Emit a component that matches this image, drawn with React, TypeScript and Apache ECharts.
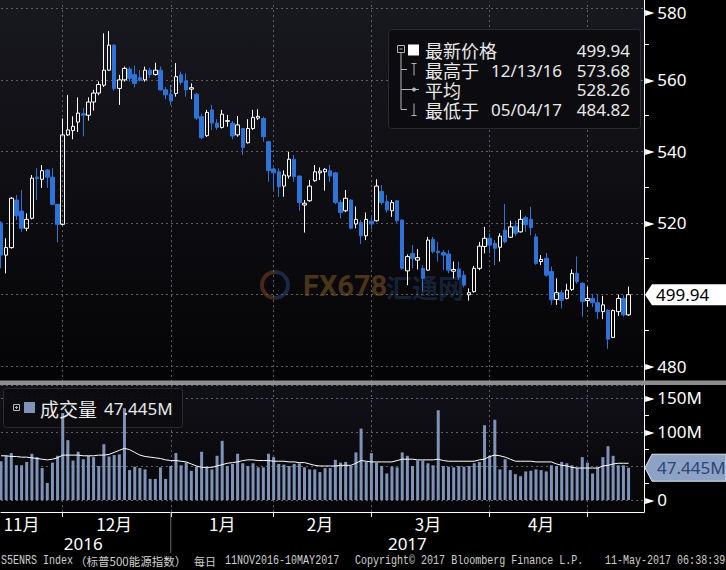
import React, { useEffect, useRef } from 'react';
import * as echarts from 'echarts';

// ---------- data ----------
const holidays = ['2016-11-24', '2016-12-26', '2017-01-02', '2017-01-16', '2017-02-20', '2017-04-14'];
function buildDates(): string[] {
  const out: string[] = [];
  const d = new Date(Date.UTC(2016, 10, 11));
  const end = Date.UTC(2017, 4, 10);
  while (d.getTime() <= end) {
    const wd = d.getUTCDay();
    const s = d.toISOString().slice(0, 10);
    if (wd !== 0 && wd !== 6 && holidays.indexOf(s) < 0) out.push(s);
    d.setUTCDate(d.getUTCDate() + 1);
  }
  return out;
}
const dates = buildDates();
const padCategories = ['2017-05-11', '2017-05-12', '2017-05-15'];
const categories = [...dates, ...padCategories];

const opens = [520.0, 511.0, 513.1, 526.4, 523.3, 518.5, 521.3, 532.8, 532.2, 534.8,
  532.8, 525.2, 519.6, 544.6, 545.8, 548.2, 550.5, 550.1, 553.8, 556.3,
  558.5, 562.7, 569.7, 557.6, 560.0, 563.0, 561.5, 560.6, 560.0, 562.7,
  561.5, 562.7, 557.2, 556.0, 556.2, 561.4, 559.7, 557.4, 556.0, 549.7,
  544.4, 551.6, 547.9, 546.7, 548.4, 547.9, 544.6, 546.4, 542.4, 546.4,
  549.3, 549.2, 542.7, 535.1, 534.3, 530.3, 533.1, 537.8, 533.1, 525.0,
  526.2, 531.8, 534.0, 534.3, 534.6, 534.0, 525.7, 523.4, 526.4, 519.7,
  520.1, 516.4, 520.5, 520.6, 528.8, 526.0, 523.4, 526.2, 520.8, 506.6,
  511.5, 509.6, 507.3, 506.8, 515.4, 512.1, 511.7, 511.3, 506.5, 507.1,
  505.4, 499.9, 500.8, 507.3, 513.4, 515.7, 514.3, 513.2, 518.0, 516.0,
  519.1, 517.5, 521.5, 521.0, 516.1, 509.2, 510.1, 506.4, 498.6, 500.5,
  498.9, 501.4, 505.9, 503.1, 498.3, 498.9, 497.7, 495.2, 495.5, 488.0,
  495.2, 498.9, 494.3];
const closes = [511.0, 513.1, 526.9, 522.0, 518.5, 521.0, 532.5, 532.4, 534.6, 532.8,
  525.2, 519.6, 544.6, 546.0, 547.0, 550.7, 550.1, 553.8, 556.3, 558.7,
  562.7, 569.7, 557.6, 560.0, 563.2, 560.4, 559.0, 559.9, 562.7, 561.5,
  562.7, 557.2, 555.8, 554.1, 560.9, 559.3, 557.2, 557.8, 549.3, 543.8,
  550.9, 547.9, 546.7, 550.4, 548.6, 544.3, 547.4, 541.1, 546.4, 549.5,
  549.8, 544.1, 534.6, 534.0, 530.1, 533.4, 537.8, 532.9, 525.7, 525.5,
  530.3, 534.3, 534.5, 535.0, 533.1, 525.7, 522.9, 526.9, 518.5, 521.0,
  516.4, 521.0, 519.7, 530.3, 525.7, 523.6, 525.7, 520.6, 507.3, 510.6,
  510.1, 510.3, 504.5, 515.2, 512.0, 511.7, 511.0, 506.8, 507.0, 504.8,
  502.6, 500.5, 507.3, 513.5, 515.7, 513.8, 512.9, 516.3, 514.7, 518.9,
  517.1, 521.0, 519.5, 518.7, 508.7, 509.8, 505.4, 498.5, 500.5, 498.4,
  501.2, 505.9, 503.6, 498.0, 498.9, 497.7, 495.2, 497.1, 487.5, 495.5,
  498.9, 494.3, 499.94];
const lows = [507.3, 505.9, 512.8, 520.8, 517.5, 517.7, 521.0, 526.4, 529.8, 529.8,
  525.0, 514.6, 519.3, 544.3, 543.4, 545.4, 544.2, 548.6, 551.4, 555.7,
  558.0, 562.5, 557.0, 553.0, 559.5, 559.5, 557.9, 559.5, 559.5, 560.6,
  561.2, 557.0, 554.6, 553.0, 555.3, 558.6, 555.3, 554.6, 548.8, 543.5,
  544.0, 546.0, 546.0, 546.4, 546.9, 543.4, 544.1, 539.0, 542.2, 546.0,
  548.8, 542.7, 531.5, 529.2, 527.3, 527.3, 532.4, 531.5, 523.4, 517.3,
  525.9, 531.5, 532.0, 529.0, 531.5, 525.3, 521.3, 523.0, 518.2, 518.5,
  514.1, 515.2, 518.2, 520.4, 525.0, 522.9, 521.7, 520.0, 506.9, 502.6,
  507.3, 507.0, 500.8, 506.6, 511.5, 509.2, 506.8, 505.9, 504.5, 504.0,
  502.0, 498.3, 500.5, 506.8, 511.5, 511.5, 508.2, 509.2, 514.3, 515.8,
  516.3, 517.3, 517.5, 516.5, 508.3, 508.2, 505.0, 497.1, 497.1, 496.1,
  498.6, 501.0, 503.0, 493.8, 496.6, 496.5, 493.1, 493.1, 484.82, 487.8,
  494.0, 493.8, 494.0];
const highs = [520.5, 515.7, 527.2, 527.8, 529.2, 522.7, 533.4, 535.3, 536.2, 535.0,
  535.3, 525.2, 549.2, 555.8, 549.8, 555.1, 552.1, 555.1, 557.2, 559.6,
  573.0, 573.68, 570.0, 561.4, 563.7, 563.7, 564.0, 562.7, 563.7, 563.4,
  564.8, 563.7, 558.0, 558.6, 564.7, 562.3, 561.8, 559.0, 556.3, 550.6,
  551.6, 553.0, 549.0, 551.6, 550.2, 548.5, 549.9, 546.6, 549.0, 551.6,
  551.8, 549.7, 543.0, 535.5, 535.3, 534.7, 539.9, 539.0, 533.3, 526.4,
  532.0, 536.2, 535.5, 535.3, 536.2, 534.3, 526.4, 529.2, 526.6, 524.6,
  520.8, 522.9, 522.2, 532.2, 530.6, 527.8, 526.4, 526.4, 521.0, 511.2,
  513.8, 512.7, 508.2, 516.1, 516.1, 514.7, 512.4, 512.4, 509.2, 509.2,
  506.6, 501.7, 508.0, 514.7, 518.9, 517.1, 515.2, 517.1, 525.3, 520.6,
  520.6, 523.6, 522.0, 524.5, 517.0, 511.0, 511.6, 507.8, 504.5, 501.2,
  503.0, 507.0, 510.6, 503.5, 502.2, 500.2, 500.1, 499.6, 495.9, 495.8,
  500.0, 499.8, 502.2];
// volume, millions
const volumes = [57, 65, 69, 51, 51, 56, 68, 63, 47, 25,
  55, 65, 128, 88, 58, 71, 60, 65, 63, 50,
  82, 64, 66, 67, 135, 44, 49, 47, 45, 31,
  31, 48, 31, 50, 69, 51, 55, 43, 49, 71,
  48, 45, 65, 87, 50, 53, 68, 54, 50, 54,
  48, 48, 68, 63, 53, 52, 50, 53, 54, 48,
  45, 45, 41, 47, 47, 59, 55, 56, 50, 70,
  105, 56, 69, 55, 50, 39, 49, 48, 70, 65,
  50, 58, 58, 54, 51, 132, 50, 49, 48, 50,
  49, 50, 54, 56, 110, 65, 118, 45, 60, 44,
  38, 35, 42, 43, 45, 44, 42, 51, 50, 56,
  54, 51, 47, 63, 55, 39, 48, 63, 79, 65,
  51, 51, 47.445];
const volumeMA = [65, 65, 64, 64, 63, 63, 62, 61, 60, 59,
  60, 62, 66, 66, 66, 66, 65, 65, 65, 66,
  66, 67, 70, 73, 76, 74, 70, 66, 64, 63,
  62, 61, 59, 58, 58, 57, 56, 53, 50, 48,
  48, 48, 50, 52, 54, 55, 56, 58, 59, 59,
  58, 58, 58, 57, 57, 57, 56, 56, 55, 55,
  53, 51, 50, 50, 50, 50, 51, 51, 51, 54,
  58, 57, 56, 56, 56, 56, 56, 58, 60, 60,
  60, 59, 59, 59, 59, 60, 58, 57, 57, 57,
  57, 57, 57, 59, 60, 64, 66, 65, 63, 60,
  57, 57, 57, 57, 56, 56, 56, 56, 53, 51,
  50, 48, 47, 47, 47, 47, 47, 50, 51, 53,
  54, 54, 54];
const averagePrice = 528.26;

const monthLabels = ['11月', '12月', '1月', '2月', '3月', '4月'];
const monthLabelIdx = [4, 22, 43, 62, 83, 105];
const yearLabels = ['2016', '2017'];
const yearLabelIdx = [16, 79];
// 500 and 50M are covered by the last-value tags in the reference
const priceTickLabels = [480, 520, 540, 560, 580];
const volumeTickLabels = [0, 100, 150];

// month-end indices (last trading day of each month, except the final month)
const monthEnds: number[] = [];
for (let i = 0; i < dates.length - 1; i++) {
  if (dates[i].slice(5, 7) !== dates[i + 1].slice(5, 7)) monthEnds.push(i);
}

const CJK = '"Noto Sans CJK SC", "Noto Sans", sans-serif';
const SANS = '"Noto Sans", "Noto Sans CJK SC", sans-serif';
const MONO = '"Liberation Mono", "DejaVu Sans Mono", monospace';
const UP = '#ffffff';
const DOWN = '#2f72d8';
const VOL = '#7f93b8';
const GRID = '#5e5e66';

const fmtDate = (s: string) => `${s.slice(5, 7)}/${s.slice(8, 10)}/${s.slice(2, 4)}`;

export default function App() {
  const ref = useRef<HTMLDivElement>(null);
  useEffect(() => {
    const chart = echarts.init(ref.current!, undefined, { renderer: 'svg' });
    const dashed = { color: GRID, type: [2, 3] as any, width: 1 };
    const tri = { fontSize: 12, color: '#ffffff', fontFamily: '"DejaVu Sans"', padding: [0, 3, 0, 0] };
    const lab = { fontSize: 17, color: '#ffffff', fontFamily: SANS };
    const triTop = { ...tri, padding: [8, 3, 0, 0] };
    const labTop = { ...lab, padding: [8, 0, 0, 0] };
    const near = (v: number, arr: number[]) => arr.some((t) => Math.abs(t - v) < 1e-6);
    const maxLabel = Math.max(...priceTickLabels);

    const option: any = {
      animation: false,
      backgroundColor: '#000000',
      grid: [
        { left: 1, right: 82, top: 0, bottom: 189, outerBoundsMode: 'none' },
        { left: 1, right: 82, top: 385, bottom: 58, outerBoundsMode: 'none' },
      ],
      xAxis: [
        {
          type: 'category', gridIndex: 0, data: categories, boundaryGap: false,
          axisLine: { show: false, onZero: false }, axisTick: { show: false }, axisLabel: { show: false },
          splitLine: { show: true, interval: (i: number) => monthEnds.indexOf(i) >= 0, lineStyle: dashed },
        },
        {
          type: 'category', gridIndex: 1, data: categories, boundaryGap: false,
          axisLine: { show: true, onZero: false, lineStyle: { color: '#ffffff', width: 1 } },
          axisTick: { show: true, length: 5, interval: (i: number) => monthEnds.indexOf(i) >= 0, lineStyle: { color: '#ffffff' } },
          axisLabel: {
            show: true, margin: 3, color: '#ffffff', fontSize: 17, fontFamily: CJK,
            interval: (i: number) => monthLabelIdx.indexOf(i) >= 0,
            formatter: (_v: string, i: number) => {
              const k = monthLabelIdx.indexOf(i);
              return k >= 0 ? monthLabels[k] : '';
            },
          },
          splitLine: { show: true, interval: (i: number) => monthEnds.indexOf(i) >= 0, lineStyle: dashed },
        },
      ],
      yAxis: [
        {
          type: 'value', gridIndex: 0, position: 'right', min: 475.81, max: 582.32, splitNumber: 5,
          axisLine: { show: true, lineStyle: { color: '#ffffff' } },
          axisTick: { show: false },
          minorTick: { show: true, splitNumber: 2, length: 5, lineStyle: { color: '#ffffff' } },
          splitLine: { show: true, lineStyle: dashed },
          axisLabel: {
            margin: 1, showMinLabel: false, showMaxLabel: false,
            formatter: (v: number) => {
              if (!near(v, priceTickLabels)) return '';
              const r = Math.round(v);
              return r === maxLabel ? `{tt|►}{vt|${r}}` : `{t|►}{v|${r}}`;
            },
            rich: { t: tri, v: lab, tt: triTop, vt: labTop },
          },
        },
        {
          type: 'value', gridIndex: 1, position: 'right', min: -17.65, max: 169.1, splitNumber: 4,
          axisLine: { show: true, lineStyle: { color: '#ffffff' } },
          axisTick: { show: false },
          minorTick: { show: true, splitNumber: 2, length: 5, lineStyle: { color: '#ffffff' } },
          splitLine: { show: true, lineStyle: dashed },
          axisLabel: {
            margin: 1, showMinLabel: false, showMaxLabel: false,
            formatter: (v: number) => {
              if (!near(v, volumeTickLabels)) return '';
              const r = Math.round(v);
              return `{t|►}{v|${r === 0 ? '0' : r + 'M'}}`;
            },
            rich: { t: tri, v: lab },
          },
        },
      ],
      series: [
        {
          type: 'candlestick', xAxisIndex: 0, yAxisIndex: 0, barWidth: 4,
          data: dates.map((_, i) => [opens[i], closes[i], lows[i], highs[i]]),
          itemStyle: { color: 'transparent', color0: DOWN, borderColor: UP, borderColor0: DOWN, borderWidth: 1 },
        },
        {
          type: 'bar', xAxisIndex: 1, yAxisIndex: 1, barWidth: 3, data: volumes,
          itemStyle: { color: VOL },
        },
        {
          type: 'line', xAxisIndex: 1, yAxisIndex: 1, data: volumeMA, symbol: 'none',
          lineStyle: { color: '#ffffff', width: 1 }, z: 3,
        },
      ],
    };
    chart.setOption(option);

    const lastClose = closes[closes.length - 1];
    const lastVol = volumes[volumes.length - 1];
    let hiIdx = 0, loIdx = 0;
    highs.forEach((h, i) => { if (h > highs[hiIdx]) hiIdx = i; });
    lows.forEach((l, i) => { if (l < lows[loIdx]) loIdx = i; });

    const py = chart.convertToPixel({ yAxisIndex: 0 } as any, lastClose) as number;
    const vy = chart.convertToPixel({ yAxisIndex: 1 } as any, lastVol) as number;
    const xOf = (i: number) => chart.convertToPixel({ xAxisIndex: 1 } as any, i) as number;
    const yearSepX = xOf(monthEnds[1]);

    const txt = (text: string, x: number, y: number, extra: any = {}, z = 20) => ({
      type: 'text', x, y, z,
      style: { text, fill: '#e8e8e8', fontSize: 17, lineHeight: 17, fontFamily: SANS, verticalAlign: 'middle', align: 'left', ...extra },
    });
    const ln = (x1: number, y1: number, x2: number, y2: number, stroke = '#b4b4b4', z = 20) => ({
      type: 'line', z, shape: { x1, y1, x2, y2 }, style: { stroke, lineWidth: 1 },
    });
    const cjk = { fontSize: 18, lineHeight: 18, fontFamily: CJK };

    const graphic: any[] = [
      // panel backgrounds
      {
        type: 'rect', z: -10, shape: { x: 0, y: 0, width: 644, height: 381 },
        style: { fill: { type: 'linear', x: 0, y: 0, x2: 0, y2: 1, colorStops: [{ offset: 0, color: '#18181f' }, { offset: 1, color: '#040406' }] } },
      },
      { type: 'rect', z: 1, shape: { x: 0, y: 0, width: 643.5, height: 1.5 }, style: { fill: '#18181f' } },
      {
        type: 'rect', z: -10, shape: { x: 0, y: 385, width: 644, height: 127 },
        style: { fill: { type: 'linear', x: 0, y: 0, x2: 0, y2: 1, colorStops: [{ offset: 0, color: '#111118' }, { offset: 1, color: '#060608' }] } },
      },
      // watermark
      { type: 'arc', z: -5, shape: { cx: 275, cy: 285, r: 13, startAngle: Math.PI * 0.5, endAngle: Math.PI * 1.5 }, style: { stroke: 'rgba(150,80,40,0.45)', lineWidth: 4, fill: 'none' } },
      { type: 'arc', z: -5, shape: { cx: 275, cy: 285, r: 13, startAngle: -Math.PI * 0.5, endAngle: Math.PI * 0.5 }, style: { stroke: 'rgba(50,80,140,0.45)', lineWidth: 4, fill: 'none' } },
      { type: 'text', z: -5, x: 303, y: 286, style: { text: 'FX678', fill: 'rgba(140,95,40,0.5)', fontSize: 29, fontWeight: 'bold', fontFamily: '"Roboto", sans-serif', verticalAlign: 'middle' } },
      { type: 'text', z: -5, x: 386, y: 286, style: { text: '汇通网', fill: 'rgba(40,65,110,0.45)', fontSize: 26, fontWeight: 'bold', fontFamily: CJK, verticalAlign: 'middle' } },
      // separator between panels
      { type: 'rect', z: 50, shape: { x: 0, y: 380.5, width: 726, height: 4.5 }, style: { fill: '#8e8e8e' } },
      // price legend box
      { type: 'rect', z: 10, shape: { x: 388.5, y: 29.5, width: 252, height: 99, r: 3 }, style: { fill: '#0c0c10', stroke: '#2a2a31', lineWidth: 1 } },
      { type: 'rect', z: 20, shape: { x: 397.5, y: 45.5, width: 7, height: 7 }, style: { fill: 'none', stroke: '#b4b4b4', lineWidth: 1 } },
      ln(399.5, 49, 402.5, 49),
      ln(401, 52.5, 401, 109.5),
      ln(401, 69.5, 407, 69.5),
      ln(401, 89.5, 409, 89.5),
      ln(401, 109.5, 407, 109.5),
      { type: 'rect', z: 20, shape: { x: 408, y: 44.5, width: 11, height: 11 }, style: { fill: '#ffffff' } },
      ln(411.5, 63.5, 416.5, 63.5), ln(414, 63.5, 414, 75.5),
      ln(409, 89.5, 419, 89.5),
      { type: 'circle', z: 20, shape: { cx: 414, cy: 89.5, r: 2 }, style: { fill: '#b4b4b4' } },
      ln(414, 103.5, 414, 115.5), ln(411.5, 115.5, 416.5, 115.5),
      txt('最新价格', 425, 50, cjk),
      txt(lastClose.toFixed(2), 630, 50, { align: 'right' }),
      txt('最高于', 425, 70, cjk),
      txt(fmtDate(dates[hiIdx]), 491, 70),
      txt(highs[hiIdx].toFixed(2), 630, 70, { align: 'right' }),
      txt('平均', 425, 89.5, cjk),
      txt(averagePrice.toFixed(2), 630, 89.5, { align: 'right' }),
      txt('最低于', 425, 109.5, cjk),
      txt(fmtDate(dates[loIdx]), 491, 109.5),
      txt(lows[loIdx].toFixed(2), 630, 109.5, { align: 'right' }),
      // volume legend box
      { type: 'rect', z: 1, shape: { x: 3.5, y: 388.5, width: 179, height: 39, r: 3 }, style: { fill: 'rgba(12,12,16,0.9)', stroke: '#2a2a31', lineWidth: 1 } },
      { type: 'rect', z: 20, shape: { x: 13.5, y: 404.5, width: 6, height: 6 }, style: { fill: 'none', stroke: '#b4b4b4', lineWidth: 1 } },
      ln(15, 407.5, 18, 407.5), ln(16.5, 406, 16.5, 409),
      { type: 'rect', z: 20, shape: { x: 24, y: 402, width: 11, height: 11 }, style: { fill: VOL } },
      txt('成交量', 40, 408, { fontSize: 19, lineHeight: 19, fontFamily: CJK }),
      txt(lastVol.toFixed(3) + 'M', 104, 408),
      // price tag
      { type: 'polygon', z: 30, shape: { points: [[645, py], [652, py - 10.5], [726, py - 10.5], [726, py + 10.5], [652, py + 10.5]] }, style: { fill: '#ffffff' } },
      txt(lastClose.toFixed(2), 656, py, { fill: '#000000' }, 40),
      // volume tag
      { type: 'polygon', z: 30, shape: { points: [[645, vy], [652, vy - 13.5], [726, vy - 13.5], [726, vy + 13.5], [652, vy + 13.5]] }, style: { fill: '#8ea2c5', stroke: '#dfe6f2', lineWidth: 1 } },
      txt(lastVol.toFixed(3) + 'M', 657, vy, { fill: '#2a4676' }, 40),
      // year labels and separator
      txt(yearLabels[0], xOf(yearLabelIdx[0]), 543, { align: 'center', fill: '#ffffff' }),
      txt(yearLabels[1], xOf(yearLabelIdx[1]), 543, { align: 'center', fill: '#ffffff' }),
      ln(yearSepX, 512, yearSepX, 553, '#6a6a6a'),
      // footer
      { type: 'text', z: 20, x: 1, y: 561, scaleX: 0.835, style: { text: 'S5ENRS Index', fill: '#d0d0d0', fontSize: 12, fontFamily: MONO, verticalAlign: 'middle' } },
      { type: 'text', z: 20, x: 75, y: 561, style: { text: '（标普500能源指数）', fill: '#d0d0d0', fontSize: 11.5, fontFamily: CJK, verticalAlign: 'middle' } },
      { type: 'text', z: 20, x: 194, y: 561, style: { text: '每日', fill: '#d0d0d0', fontSize: 11, fontFamily: CJK, verticalAlign: 'middle' } },
      { type: 'text', z: 20, x: 225, y: 561, scaleX: 0.835, style: { text: '11NOV2016-10MAY2017', fill: '#d0d0d0', fontSize: 12, fontFamily: MONO, verticalAlign: 'middle' } },
      { type: 'text', z: 20, x: 355, y: 561, scaleX: 0.835, style: { text: 'Copyright© 2017 Bloomberg Finance L.P.', fill: '#d0d0d0', fontSize: 12, fontFamily: MONO, verticalAlign: 'middle' } },
      { type: 'text', z: 20, x: 605, y: 561, scaleX: 0.835, style: { text: '11-May-2017 06:38:39', fill: '#d0d0d0', fontSize: 12, fontFamily: MONO, verticalAlign: 'middle' } },
    ];
    chart.setOption({ graphic });
    return () => chart.dispose();
  }, []);
  return <div ref={ref} style={{ position: 'fixed', left: 0, top: 0, width: 726, height: 570 }} />;
}
